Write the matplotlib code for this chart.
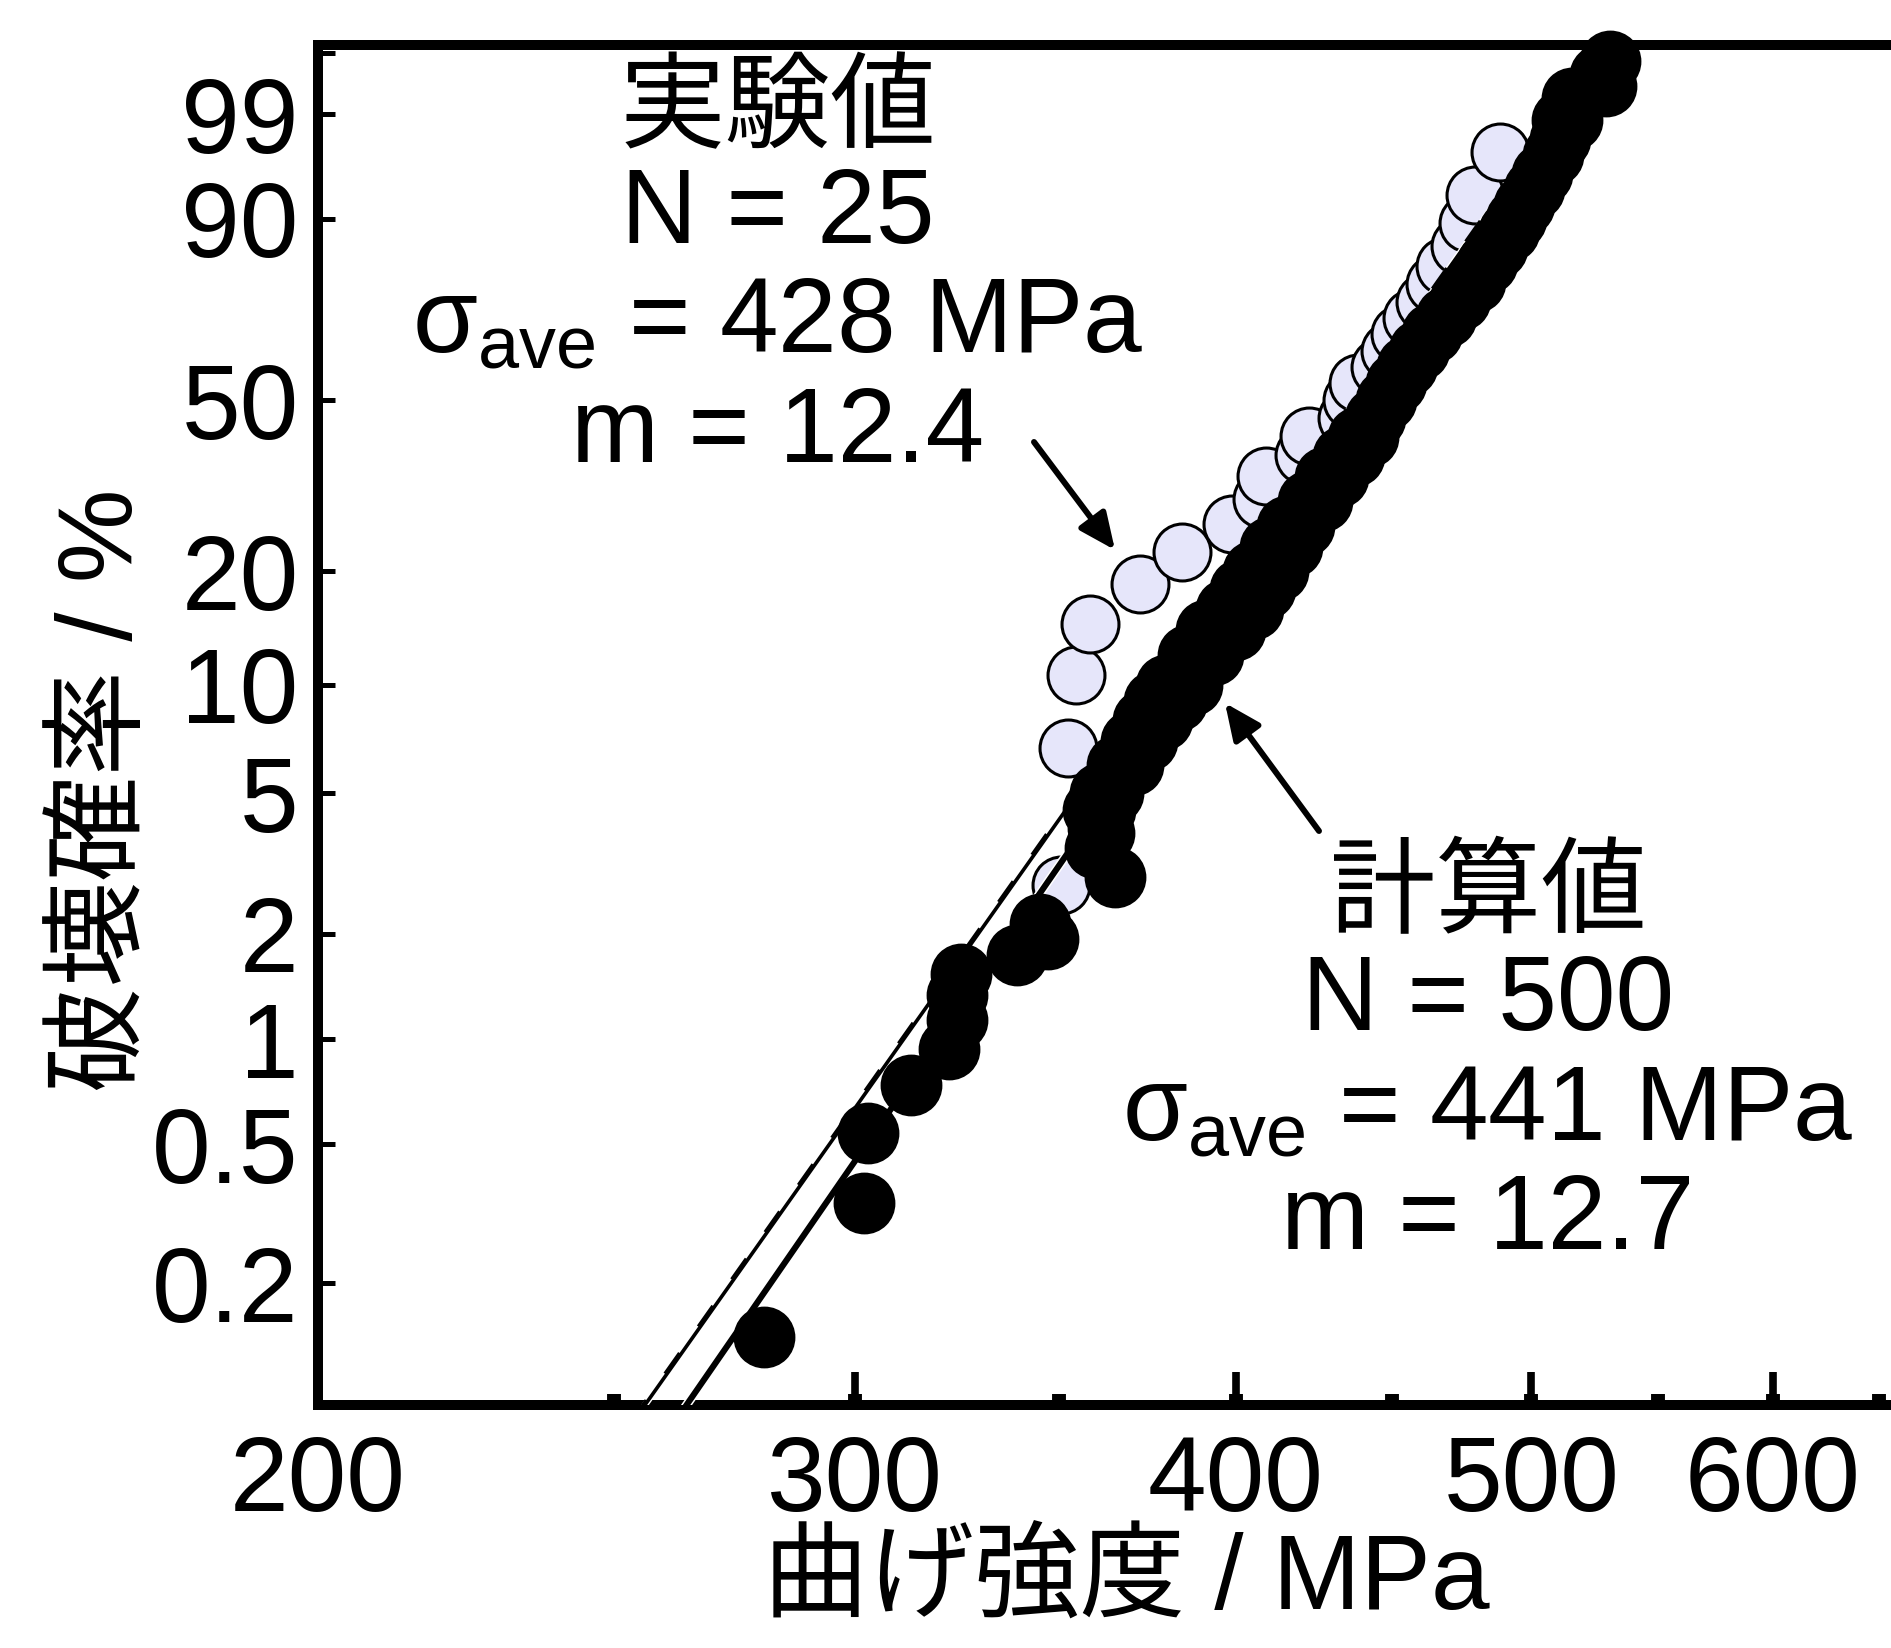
import numpy as np
import matplotlib
matplotlib.use("Agg")
import matplotlib.pyplot as plt
import matplotlib.patheffects as pe

plt.rcParams['font.family'] = ['Liberation Sans', 'Noto Sans CJK JP', 'DejaVu Sans']
plt.rcParams['mathtext.fontset'] = 'custom'
plt.rcParams['mathtext.rm'] = 'Liberation Sans'
plt.rcParams['mathtext.it'] = 'Liberation Sans'
plt.rcParams['mathtext.bf'] = 'Liberation Sans:bold'

# ---------------- data ----------------
# experimental (N = 25): strength [MPa], failure probability [%]
exp_strength = [350.5, 352.3, 354.5, 358.2, 372.0, 384.0, 398.8, 407.9, 409.2, 421.1,
                422.7, 435.0, 436.6, 438.6, 445.9, 449.3, 452.7, 456.8, 461.3, 464.8,
                468.3, 473.7, 476.5, 479.1, 488.2]
exp_prob = [2.76, 6.69, 10.63, 14.57, 18.50, 22.44, 26.38, 30.31, 34.25, 38.19,
            42.13, 46.06, 50.00, 53.94, 57.87, 61.81, 65.75, 69.69, 73.62, 77.56,
            81.50, 85.43, 89.37, 93.31, 97.24]

# calculated (N = 500): points read along the plotted band
calc_strength = [280, 302, 303, 313, 322, 324, 324, 325, 339, 347, 345, 365, 362,
                 359.5, 360.4, 359.0, 362.3, 360.9, 364.5, 365.6, 370.0, 369.4, 373.9,
                 372.8, 378.2, 375.9, 382.6, 379.4, 387.0, 385.8, 393.1, 391.1, 399.7,
                 397.0, 405.2, 401.2, 408.9, 405.2, 412.9, 410.4, 417.3, 415.7, 421.1,
                 422.3, 426.8, 427.8, 432.0, 433.6, 437.3, 438.6, 441.9, 444.3, 447.9,
                 451.3, 455.1, 459.2, 463.8, 468.7, 473.7, 479.1, 483.4, 487.1, 491.5,
                 494.1, 497.1, 500.9, 503.9, 508.1, 510.8, 511.6, 515.5, 515.5, 528.9,
                 526.5, 530.5]
calc_prob = [0.14, 0.34, 0.54, 0.74, 0.94, 1.14, 1.34, 1.54, 1.74, 1.94, 2.14, 2.9, 3.87,
             3.5, 4.0, 4.5, 4.5, 5.0, 5.0, 6.0, 6.0, 7.0, 7.0,
             8.0, 8.0, 9.0, 9.0, 10.0, 10.0, 12.0, 12.0, 14.0, 14.0,
             16.0, 16.0, 18.0, 18.0, 20.0, 20.0, 23.0, 23.0, 26.0, 26.0,
             30.0, 30.0, 34.0, 34.0, 38.0, 38.0, 42.0, 42.0, 46.0, 50.0,
             54.0, 58.0, 62.0, 66.0, 70.0, 74.0, 78.0, 82.0, 85.0, 88.0,
             90.0, 92.0, 94.0, 95.5, 97.0, 98.0, 98.8, 98.8, 99.4, 99.61,
             99.75, 99.86]

# Weibull fit lines (modulus m, scale sigma0)
fit_exp_m, fit_exp_s0 = 12.4, 451.0
fit_exp2_m, fit_exp2_s0 = 12.4, 450.3
fit_calc_m, fit_calc_s0 = 12.7, 459.2
line_strength = np.array([235.0, 545.0])

x_major = [200, 300, 400, 500, 600]
x_major_labels = ['200', '300', '400', '500', '600']
x_minor = [250, 300, 350, 400, 450, 500, 550, 600, 650]
y_ticks = [0.2, 0.5, 1, 2, 5, 10, 20, 50, 90, 99, 99.9]
y_labels = ['0.2', '0.5', '1', '2', '5', '10', '20', '50', '90', '99', '']

label_exp = ['実験値', 'N = 25', r'$\sigma_{\rm ave}$ = 428 MPa', 'm = 12.4']
label_calc = ['計算値', 'N = 500', r'$\sigma_{\rm ave}$ = 441 MPa', 'm = 12.7']


def weib_fwd(p):
    p = np.asarray(p, dtype=float)
    with np.errstate(all='ignore'):
        return np.log(-np.log(1.0 - p / 100.0))


def weib_inv(y):
    y = np.asarray(y, dtype=float)
    with np.errstate(all='ignore'):
        return 100.0 * (1.0 - np.exp(-np.exp(y)))


def weibull_cdf(s, m, s0):
    return 100.0 * (1.0 - np.exp(-(s / s0) ** m))


W, H = 1891, 1648
fig = plt.figure(figsize=(W / 100, H / 100), dpi=100)


def fx(px):
    return px / W


def fy(py):
    return 1 - py / H


ax = fig.add_axes([318 / W, (H - 1405) / H, 1659 / W, 1360 / H])
ax.set_xscale('log')
ax.set_yscale('function', functions=(weib_fwd, weib_inv))
ax.set_xlim(200, 700)
ax.set_ylim(0.0892, 99.9315)

# experimental points
ax.plot(exp_strength, exp_prob, 'o', ms=41, mfc='#E6E6FA', mec='black', mew=2.2,
        ls='none', zorder=2, clip_on=False)

# fit lines
ax.plot(line_strength, weibull_cdf(line_strength, fit_exp_m, fit_exp_s0), '-',
        color='black', lw=2.6, zorder=3,
        path_effects=[pe.Stroke(linewidth=4.6, foreground='white'), pe.Normal()])
ax.plot(line_strength, weibull_cdf(line_strength, fit_exp2_m, fit_exp2_s0),
        color='black', lw=2.6, ls=(0, (7, 9)), zorder=3.1)
ax.plot(line_strength, weibull_cdf(line_strength, fit_calc_m, fit_calc_s0), '-',
        color='black', lw=4.4, zorder=3,
        path_effects=[pe.Stroke(linewidth=6.6, foreground='white'), pe.Normal()])

# calculated points
ax.plot(calc_strength, calc_prob, 'o', ms=43, mfc='black', mec='black', mew=1.5,
        ls='none', zorder=4, clip_on=False)

# axes styling
for side in ['left', 'bottom', 'top', 'right']:
    ax.spines[side].set_linewidth(7.2)
ax.xaxis.remove_overlapping_locs = False
ax.set_xticks(x_major, labels=x_major_labels)
ax.set_xticks(x_minor, labels=[''] * len(x_minor), minor=True)
ax.set_yticks(y_ticks, labels=y_labels)
ax.set_yticks([], minor=True)
ax.tick_params(axis='x', which='major', direction='in', length=24, width=5.5,
               pad=21, labelsize=76, top=False)
ax.tick_params(axis='x', which='minor', direction='in', length=8, width=10, top=False)
ax.tick_params(axis='y', which='major', direction='in', length=12, width=3.6,
               pad=14, labelsize=76, right=False)

# axis labels
fig.text(fx(105), fy(790), '破壊確率 / %', rotation=90, ha='center', va='center', fontsize=76)
fig.text(fx(1126), fy(1582), '曲げ強度 / MPa', ha='center', va='center', fontsize=76)

# annotation blocks
fs = 76
fig.text(fx(778), fy(140), label_exp[0], ha='center', va='baseline', fontsize=fs)
fig.text(fx(778), fy(243), label_exp[1], ha='center', va='baseline', fontsize=fs)
fig.text(fx(778), fy(353), label_exp[2], ha='center', va='baseline', fontsize=fs)
fig.text(fx(778), fy(462), label_exp[3], ha='center', va='baseline', fontsize=fs)

fig.text(fx(1488), fy(925), label_calc[0], ha='center', va='baseline', fontsize=fs)
fig.text(fx(1488), fy(1030), label_calc[1], ha='center', va='baseline', fontsize=fs)
fig.text(fx(1488), fy(1141), label_calc[2], ha='center', va='baseline', fontsize=fs)
fig.text(fx(1488), fy(1249), label_calc[3], ha='center', va='baseline', fontsize=fs)

arrow = dict(arrowstyle='-|>,head_length=1.0,head_width=0.45', lw=4.3, color='black',
             mutation_scale=22, shrinkA=0, shrinkB=0)
ax.annotate('', xy=(fx(1115), fy(550)), xytext=(fx(1034), fy(442)),
            xycoords='figure fraction', textcoords='figure fraction', arrowprops=arrow)
ax.annotate('', xy=(fx(1225), fy(703)), xytext=(fx(1319), fy(831)),
            xycoords='figure fraction', textcoords='figure fraction', arrowprops=arrow)

fig.savefig('out.png', dpi=100)
